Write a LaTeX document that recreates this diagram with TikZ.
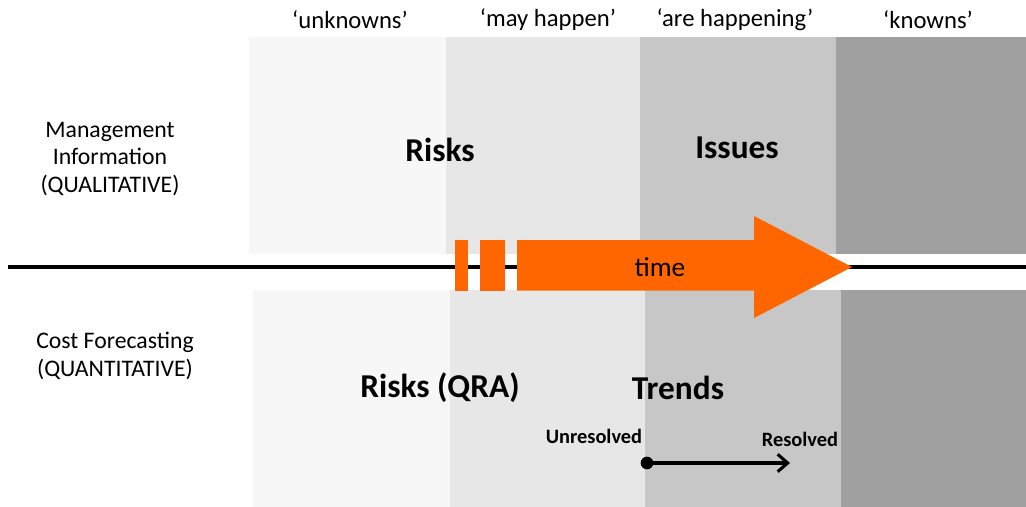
\documentclass[tikz,border=0pt]{standalone}
\usepackage{fontspec}
\setmainfont{Carlito}
\usetikzlibrary{arrows.meta}
\definecolor{BandUnknown}{HTML}{F7F7F7}
\definecolor{BandMay}{HTML}{E7E7E7}
\definecolor{BandAre}{HTML}{C7C7C7}
\definecolor{BandKnown}{HTML}{A0A0A0}
\definecolor{TimeOrange}{HTML}{FF6600}

\begin{document}
\begin{tikzpicture}[x=0.75pt, y=-0.75pt,
	header/.style={font=\fontsize{18.5}{22}\selectfont},
	side/.style={align=center, font=\fontsize{17.8}{20.8}\selectfont},
	big/.style={font=\fontsize{25}{30}\selectfont\bfseries},
	small/.style={font=\fontsize{15.3}{18}\selectfont\bfseries}]
	\useasboundingbox (0,0) rectangle (1026,507);
	% qualitative bands
	\fill[BandUnknown] (249,37) rectangle (446,254);
	\fill[BandMay] (446,37) rectangle (640,254);
	\fill[BandAre] (640,37) rectangle (836,254);
	\fill[BandKnown] (836,37) rectangle (1026,254);
	% quantitative bands
	\fill[BandUnknown] (253,290) rectangle (450,507);
	\fill[BandMay] (450,290) rectangle (645,507);
	\fill[BandAre] (645,290) rectangle (841,507);
	\fill[BandKnown] (841,290) rectangle (1026,507);
	\node[header] (unknowns) at (350,20) {‘unknowns’};
	\node[header] (may) at (548,20) {‘may happen’};
	\node[header] (are) at (735,20) {‘are happening’};
	\node[header] (knowns) at (928,20) {‘knowns’};
	\node[side] (mi) at (110,159) {Management\\Information\\(QUALITATIVE)};
	\node[side] (cf) at (115,356) {Cost Forecasting\\(QUANTITATIVE)};
	% time axis
	\coordinate (axis-l) at (8,267);
	\coordinate (axis-r) at (1026,267);
	\draw[line width=2.7pt] (axis-l) -- (axis-r);
	\fill[TimeOrange] (455,240) rectangle (467.5,290.5);
	\fill[TimeOrange] (480,240) rectangle (505,290.5);
	\fill[TimeOrange] (517,240) -- (754,240) -- (754,216) -- (852,267)
		-- (754,318) -- (754,290.5) -- (517,290.5) -- cycle;
	\node[font=\fontsize{20.5}{24}\selectfont] (time) at (660,267) {time};
	\node[big] (risks) at (440,150) {Risks};
	\node[big] (issues) at (737,148) {Issues};
	\node[big] (qra) at (440,388) {Risks (QRA)};
	\node[big] (trends) at (678,388) {Trends};
	\node[small] (unres) at (594,436) {Unresolved};
	\node[small] (res) at (800,439) {Resolved};
	\node[circle, fill=black, inner sep=0pt, minimum size=9.5pt] (start) at (647,463) {};
	\coordinate (end) at (790,463);
	\draw[line width=2.3pt, -{Straight Barb[length=7.5pt,width=13pt]}] (start.center) -- (end);
\end{tikzpicture}
\end{document}
